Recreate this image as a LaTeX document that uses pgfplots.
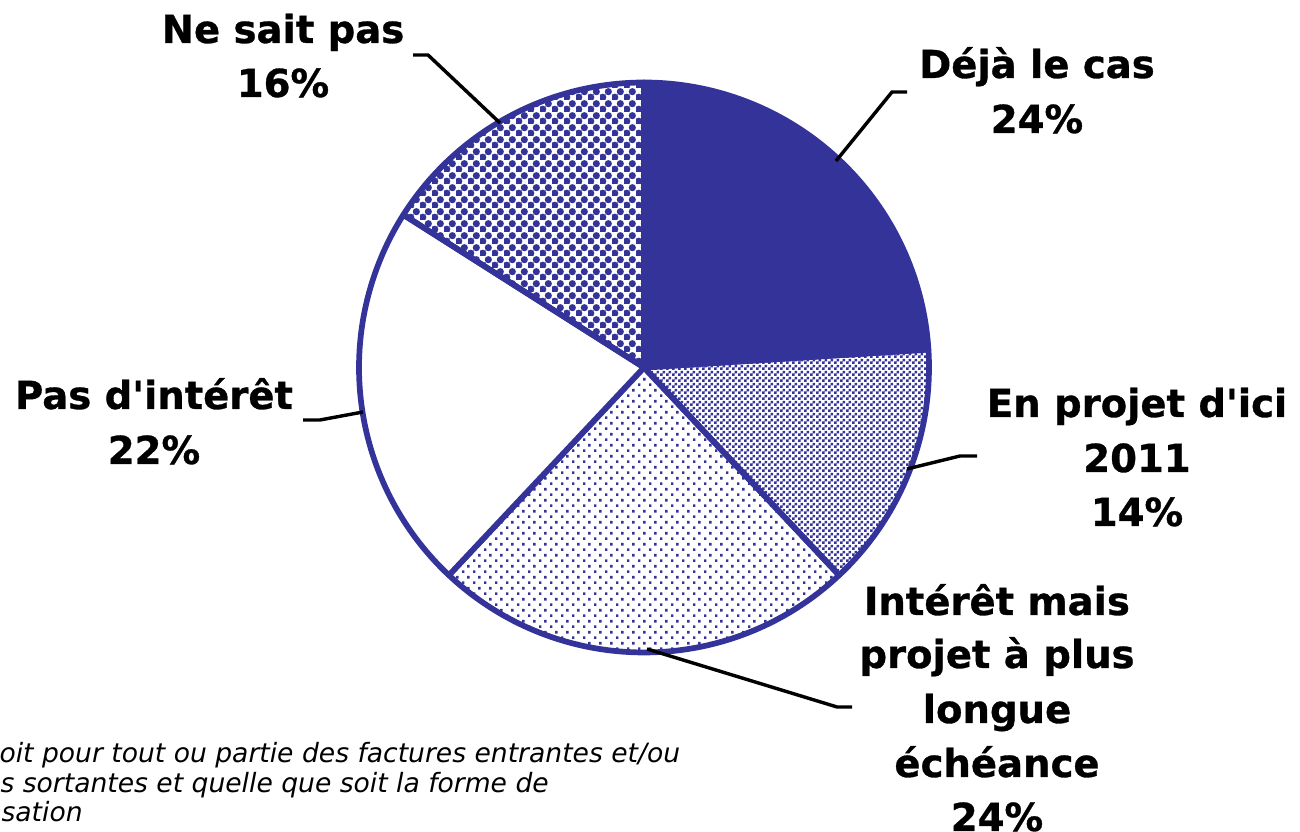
\documentclass[border=0pt]{standalone}
\usepackage{pgfplots}
\pgfplotsset{compat=1.18}
\usepackage{fontspec}
\setmainfont{DejaVu Sans}[Ligatures=TeXOff, BoldFeatures={FakeBold=0.8}]
\usetikzlibrary{patterns}
\definecolor{pieblue}{RGB}{51,51,153}

\pgfdeclarepatternformonly{bigcheck}{\pgfqpoint{0pt}{0pt}}{\pgfqpoint{4.2pt}{4.2pt}}{\pgfqpoint{4.2pt}{4.2pt}}{%
  \pgfpathrectangle{\pgfqpoint{0pt}{0pt}}{\pgfqpoint{2.1pt}{2.1pt}}%
  \pgfpathrectangle{\pgfqpoint{2.1pt}{2.1pt}}{\pgfqpoint{2.1pt}{2.1pt}}%
  \pgfpathcircle{\pgfqpoint{1.05pt}{1.05pt}}{1.35pt}%
  \pgfpathcircle{\pgfqpoint{3.15pt}{3.15pt}}{1.35pt}%
  \pgfusepath{fill}}
\pgfdeclarepatternformonly{smallcheck}{\pgfqpoint{0pt}{0pt}}{\pgfqpoint{2.1pt}{2.1pt}}{\pgfqpoint{2.1pt}{2.1pt}}{%
  \pgfpathrectangle{\pgfqpoint{0pt}{0pt}}{\pgfqpoint{1.05pt}{1.05pt}}%
  \pgfpathrectangle{\pgfqpoint{1.05pt}{1.05pt}}{\pgfqpoint{1.05pt}{1.05pt}}%
  \pgfusepath{fill}}
\pgfdeclarepatternformonly{dotgrid}{\pgfqpoint{0pt}{0pt}}{\pgfqpoint{3.85pt}{4pt}}{\pgfqpoint{3.85pt}{4pt}}{%
  \pgfpathrectangle{\pgfqpoint{0pt}{0pt}}{\pgfqpoint{0.95pt}{0.95pt}}%
  \pgfpathrectangle{\pgfqpoint{1.925pt}{2pt}}{\pgfqpoint{0.95pt}{0.95pt}}%
  \pgfusepath{fill}}

% data (percent)
\def\vDeja{24}
\def\vProj{14}
\def\vInt{24}
\def\vPas{22}
\def\vNSP{16}
% geometry (pixels of the reference)
\def\cx{644}
\def\cy{367.5}
\def\R{285}
\pgfmathsetmacro\aA{90-3.6*\vDeja}
\pgfmathsetmacro\aB{\aA-3.6*\vProj}
\pgfmathsetmacro\aC{\aB-3.6*\vInt}
\pgfmathsetmacro\aD{\aC-3.6*\vPas}
\pgfmathsetmacro\aE{\aD-3.6*\vNSP}

\begin{document}
\begin{tikzpicture}[
  lab/.style={font=\fontsize{13.5}{18}\selectfont\bfseries, anchor=base, inner sep=0pt},
  foot/.style={font=\fontsize{9.3}{10.3}\selectfont\itshape, anchor=base west, inner sep=0pt},
  lead/.style={black, line width=1.2pt},
]
\begin{axis}[
  hide axis, scale only axis,
  width=455pt, height=291.2pt,
  xmin=0, xmax=1300, ymin=0, ymax=832,
  y dir=reverse, clip=false,
  every axis plot/.append style={draw=pieblue, line width=2pt, line join=round, samples=90, variable=\t},
]
% slices
\addplot[fill=pieblue, domain=\aA:90] ({\cx+\R*cos(t)},{\cy-\R*sin(t)}) -- (axis cs:\cx,\cy) -- cycle;
\addplot[pattern=smallcheck, pattern color=pieblue, domain=\aB:\aA] ({\cx+\R*cos(t)},{\cy-\R*sin(t)}) -- (axis cs:\cx,\cy) -- cycle;
\addplot[pattern=dotgrid, pattern color=pieblue, domain=\aC:\aB] ({\cx+\R*cos(t)},{\cy-\R*sin(t)}) -- (axis cs:\cx,\cy) -- cycle;
\addplot[fill=white, domain=\aD:\aC] ({\cx+\R*cos(t)},{\cy-\R*sin(t)}) -- (axis cs:\cx,\cy) -- cycle;
\addplot[pattern=bigcheck, pattern color=pieblue, domain=\aE:\aD] ({\cx+\R*cos(t)},{\cy-\R*sin(t)}) -- (axis cs:\cx,\cy) -- cycle;

% leader lines
\draw[lead] (axis cs:413,55) -- (axis cs:428,55) -- (axis cs:500,123);
\draw[lead] (axis cs:907,92) -- (axis cs:892,92) -- (axis cs:836,161);
\draw[lead] (axis cs:977,456) -- (axis cs:960,456) -- (axis cs:907,469);
\draw[lead] (axis cs:647,649) -- (axis cs:837,707) -- (axis cs:852,707);
\draw[lead] (axis cs:303,420) -- (axis cs:320,420) -- (axis cs:363,412);

% labels
\node[lab] at (axis cs:283,43) {Ne sait pas};
\node[lab] at (axis cs:283,97) {16\%};
\node[lab] at (axis cs:1037,78) {Déjà le cas};
\node[lab] at (axis cs:1037,133) {24\%};
\node[lab] at (axis cs:1137,417) {En projet d'ici};
\node[lab] at (axis cs:1137,472) {2011};
\node[lab] at (axis cs:1137,526) {14\%};
\node[lab] at (axis cs:997,615) {Intérêt mais};
\node[lab] at (axis cs:997,668) {projet à plus};
\node[lab] at (axis cs:997,723) {longue};
\node[lab] at (axis cs:997,777) {échéance};
\node[lab] at (axis cs:997,831) {24\%};
\node[lab] at (axis cs:154,409) {Pas d'intérêt};
\node[lab] at (axis cs:154,464) {22\%};

% footnote (clipped at the left edge as in the reference)
\node[foot] at (axis cs:-1,763) {oit pour tout ou partie des factures entrantes et/ou};
\node[foot] at (axis cs:0,793) {s sortantes et quelle que soit la forme de};
\node[foot] at (axis cs:1,822) {sation};
\end{axis}
\pgfresetboundingbox
\useasboundingbox (current axis.south west) rectangle (current axis.north east);
\end{tikzpicture}
\end{document}
